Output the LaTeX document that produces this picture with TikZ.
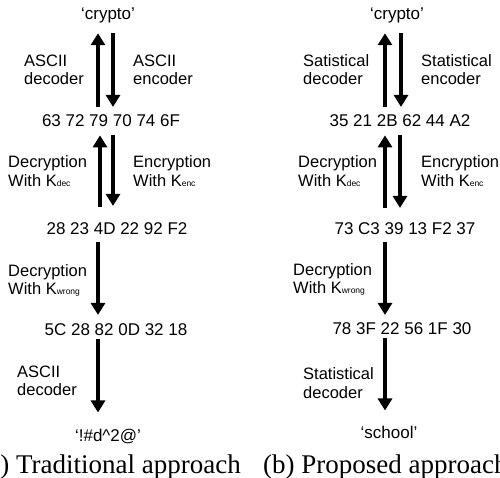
\documentclass[tikz,border=0pt]{standalone}
\usepackage{fontspec}
\setmainfont{Liberation Sans}
\newfontfamily\capfont{Liberation Serif}
\usetikzlibrary{arrows.meta}
\newcommand{\sbs}[1]{{\fontsize{8.5}{9}\selectfont #1}}
\tikzset{
  txt/.style={inner sep=0pt, anchor=base, font=\fontsize{17}{19}\selectfont},
  lbl/.style={inner sep=0pt, anchor=base west, font=\fontsize{16.5}{19}\selectfont},
  captxt/.style={inner sep=0pt, font=\capfont\fontsize{27}{30}\selectfont},
  arr/.style={line width=4pt, -{Triangle[width=14pt,length=12pt]}},
}
\begin{document}
\begin{tikzpicture}[x=1pt,y=-1pt]
\useasboundingbox (0,0) rectangle (500,478);
% columns
\coordinate (La) at (98,0);
\coordinate (Lb) at (113,0);
\coordinate (Lc) at (100,0);
\coordinate (Ra) at (385,0);
\coordinate (Rb) at (401,0);
\coordinate (Rc) at (400,0);
% ---------------- left panel ----------------
\node[txt] (c1) at (108,20) {‘crypto’};
\node[txt] (v1) at (111,127) {63 72 79 70 74 6F};
\node[txt] (v2) at (117,235) {28 23 4D 22 92 F2};
\node[txt] (v3) at (116,335) {5C 28 82 0D 32 18};
\node[txt] (w1) at (108,441) {‘!\#d\^{}2@’};
\node[lbl] (l1a) at (24,67) {ASCII};
\node[lbl] (l1b) at (24,85) {decoder};
\node[lbl] (l2a) at (133,67) {ASCII};
\node[lbl] (l2b) at (133,85) {encoder};
\node[lbl] (l3a) at (8,168) {Decryption};
\node[lbl] (l3b) at (8,187) {With K\sbs{dec}};
\node[lbl] (l4a) at (133,168) {Encryption};
\node[lbl] (l4b) at (133,187) {With K\sbs{enc}};
\node[lbl] (l5a) at (8,276) {Decryption};
\node[lbl] (l5b) at (8,294) {With K\sbs{wrong}};
\node[lbl] (l6a) at (17,377) {ASCII};
\node[lbl] (l6b) at (17,395) {decoder};
\node[captxt, anchor=base east] (capa) at (241,473) {(a) Traditional approach};
\draw[arr, shorten <=8pt, shorten >=9.5pt] (v1.north -| La) -- (c1.south -| La);
\draw[arr, shorten <=9.5pt, shorten >=8pt] (c1.south -| Lb) -- (v1.north -| Lb);
\draw[arr, shorten <=16pt, shorten >=8pt] (v2.north -| Lc) -- (v1.south -| Lc);
\draw[arr, shorten <=8pt, shorten >=17pt] (v1.south -| Lb) -- (v2.north -| Lb);
\draw[arr, shorten <=7pt, shorten >=8pt] (v2.south -| La) -- (v3.north -| La);
\draw[arr, shorten <=4pt, shorten >=16pt] (v3.south -| La) -- (w1.north -| La);
% ---------------- right panel ----------------
\node[txt] (c2) at (397,20) {‘crypto’};
\node[txt] (u1) at (400,127) {35 21 2B 62 44 A2};
\node[txt] (u2) at (405,235) {73 C3 39 13 F2 37};
\node[txt] (u3) at (402,334) {78 3F 22 56 1F 30};
\node[txt] (w2) at (389,438) {‘school’};
\node[lbl] (r1a) at (303,67) {Satistical};
\node[lbl] (r1b) at (303,85) {decoder};
\node[lbl] (r2a) at (421,67) {Statistical};
\node[lbl] (r2b) at (421,85) {encoder};
\node[lbl] (r3a) at (298,168) {Decryption};
\node[lbl] (r3b) at (298,187) {With K\sbs{dec}};
\node[lbl] (r4a) at (421,168) {Encryption};
\node[lbl] (r4b) at (421,187) {With K\sbs{enc}};
\node[lbl] (r5a) at (293,275) {Decryption};
\node[lbl] (r5b) at (293,293) {With K\sbs{wrong}};
\node[lbl] (r6a) at (303,379) {Statistical};
\node[lbl] (r6b) at (303,398) {decoder};
\node[captxt, anchor=base west] (capb) at (263,473) {(b) Proposed approach};
\draw[arr, shorten <=8pt, shorten >=9.5pt] (u1.north -| Ra) -- (c2.south -| Ra);
\draw[arr, shorten <=9.5pt, shorten >=8pt] (c2.south -| Rb) -- (u1.north -| Rb);
\draw[arr, shorten <=15pt, shorten >=8pt] (u2.north -| Ra) -- (u1.south -| Ra);
\draw[arr, shorten <=8pt, shorten >=15pt] (u1.south -| Rc) -- (u2.north -| Rc);
\draw[arr, shorten <=7pt, shorten >=7pt] (u2.south -| Ra) -- (u3.north -| Ra);
\draw[arr, shorten <=4pt, shorten >=15pt] (u3.south -| Ra) -- (w2.north -| Ra);
\end{tikzpicture}
\end{document}
